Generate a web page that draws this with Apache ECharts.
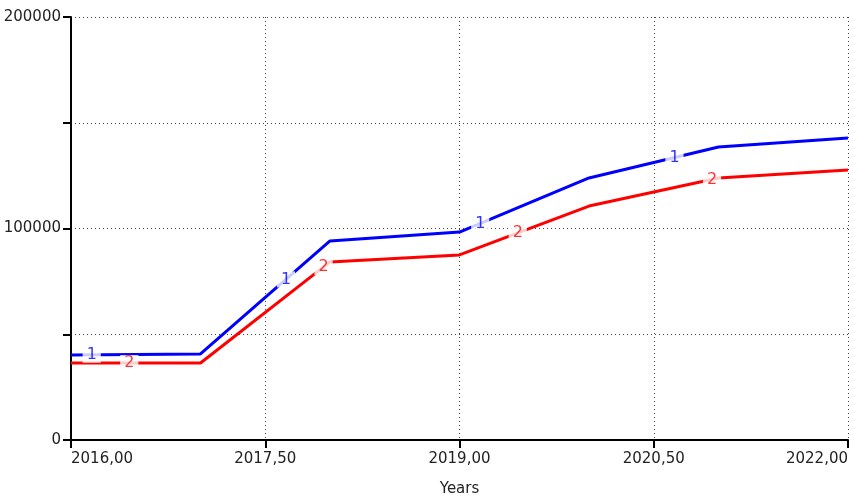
<!DOCTYPE html>
<html>
<head>
<meta charset="utf-8">
<script src="https://cdn.jsdelivr.net/npm/echarts@6/dist/echarts.min.js"></script>
<style>html,body{margin:0;padding:0;background:#fff;}#c{width:854px;height:495px;}</style>
</head>
<body>
<div id="c"></div>
<script>
const years = [2016, 2017, 2018, 2019, 2020, 2021, 2022];
const series1 = [40200, 40700, 94100, 98300, 123900, 138500, 142800];
const series2 = [36400, 36400, 84200, 87500, 110600, 123900, 127700];
const label1X = [2016.16, 2017.66, 2019.16, 2020.66];
const label2X = [2016.45, 2017.95, 2019.45, 2020.95];
const yTicks = [0, 100000, 200000];

function interp(xs, ys, x) {
  for (let i = 0; i < xs.length - 1; i++) {
    if (x >= xs[i] && x <= xs[i + 1]) {
      const t = (x - xs[i]) / (xs[i + 1] - xs[i]);
      return ys[i] + t * (ys[i + 1] - ys[i]);
    }
  }
  return ys[ys.length - 1];
}

const font = 'DejaVu Sans';
const chart = echarts.init(document.getElementById('c'), null, {renderer: 'canvas'});
function labelSeries(xs, ys, txt, color) {
  return {
    type: 'scatter',
    data: xs.map(x => [x, interp(years, ys, x)]),
    symbolSize: 1,
    itemStyle: {color: 'rgba(0,0,0,0)'},
    z: 10,
    silent: true,
    label: {
      show: true, position: 'inside', formatter: txt,
      color: color, fontFamily: font, fontSize: 16,
      backgroundColor: '#fff', padding: [0, 4, 0, 4]
    }
  };
}
chart.setOption({
  animation: false,
  grid: {left: 71, right: 6, top: 17, bottom: 55, containLabel: false, outerBoundsMode: 'none'},
  xAxis: {
    type: 'value', min: 2016, max: 2022, interval: 1.5,
    name: 'Years', nameLocation: 'middle', nameGap: 42,
    nameTextStyle: {color: '#222', fontFamily: font, fontSize: 15},
    axisLine: {show: true, onZero: false, lineStyle: {color: '#000', width: 2}},
    axisTick: {show: true, length: 8, lineStyle: {color: '#000', width: 2}},
    axisLabel: {
      color: '#222', fontFamily: font, fontSize: 15, margin: 12,
      alignMinLabel: 'left', alignMaxLabel: 'right',
      formatter: v => v.toFixed(2).replace('.', ',')
    },
    splitLine: {show: true, lineStyle: {color: '#444', type: [1, 3], width: 1}}
  },
  yAxis: {
    type: 'value', min: 0, max: 200000, interval: 50000,
    axisLine: {show: true, lineStyle: {color: '#000', width: 2}},
    axisTick: {show: true, length: 8, lineStyle: {color: '#000', width: 2}},
    axisLabel: {
      color: '#222', fontFamily: font, fontSize: 15, margin: 10,
      formatter: v => yTicks.indexOf(v) >= 0 ? String(v) : ''
    },
    splitLine: {show: true, lineStyle: {color: '#444', type: [1, 3], width: 1}}
  },
  series: [
    {type: 'line', data: years.map((y, i) => [y, series1[i]]), showSymbol: false,
     lineStyle: {color: '#0000ff', width: 3}, itemStyle: {color: '#0000ff'}, z: 3},
    {type: 'line', data: years.map((y, i) => [y, series2[i]]), showSymbol: false,
     lineStyle: {color: '#ff0000', width: 3}, itemStyle: {color: '#ff0000'}, z: 3},
    labelSeries(label1X, series1, '1', '#0000ff'),
    labelSeries(label2X, series2, '2', '#ff0000')
  ]
});
</script>
</body>
</html>
